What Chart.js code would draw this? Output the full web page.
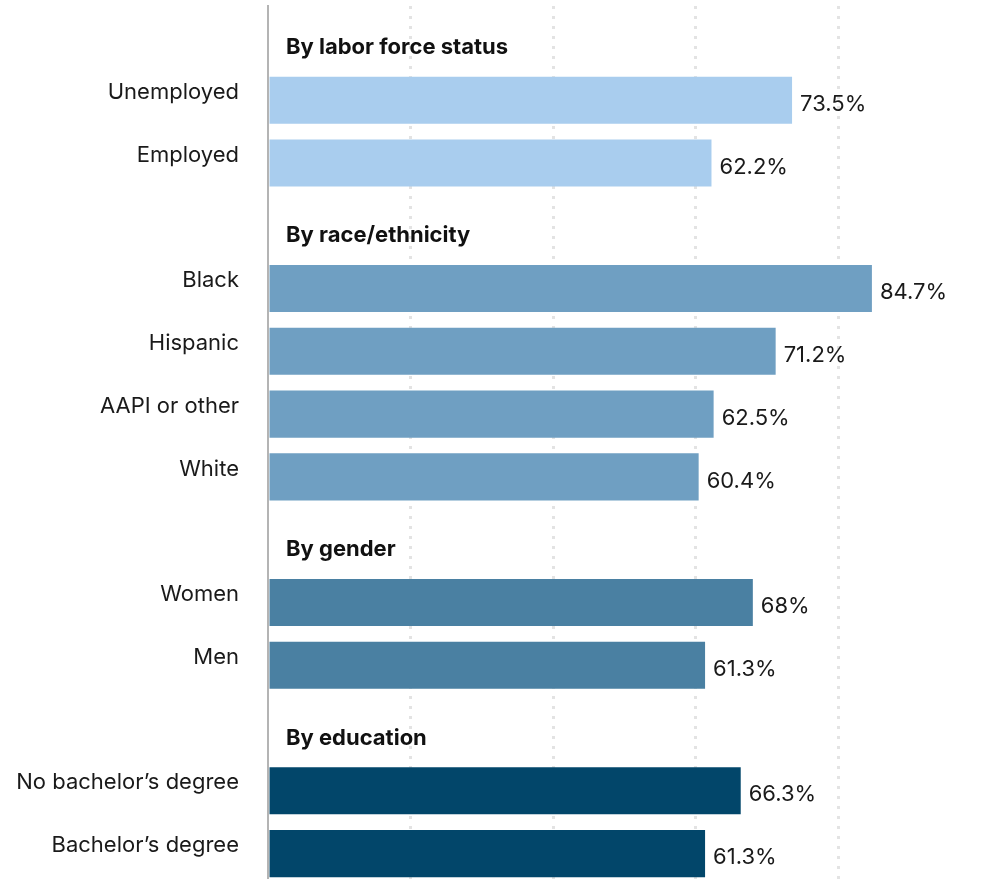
<!DOCTYPE html>
<html>
<head>
<meta charset="utf-8">
<script src="https://cdn.jsdelivr.net/npm/chart.js@4.4.1/dist/chart.umd.min.js"></script>
<style>
  html, body { margin: 0; padding: 0; background: #fff; overflow: hidden; }
  #frame { width: 981px; height: 879px; overflow: hidden; }
  #wrap { position: relative; width: 981px; height: 885px; }
</style>
</head>
<body>
<div id="frame">
  <div id="wrap"><canvas id="barChart"></canvas></div>
</div>
<script>
// rows in draw order, '' marks a group heading row
const rowLabels = [
  "", "Unemployed", "Employed",
  "", "Black", "Hispanic", "AAPI or other", "White",
  "", "Women", "Men",
  "", "No bachelor’s degree", "Bachelor’s degree",
];
const rowValues = [
  null, 73.5, 62.2,
  null, 84.7, 71.2, 62.5, 60.4,
  null, 68, 61.3,
  null, 66.3, 61.3,
];
const rowGroup = [0, 0, 0, 1, 1, 1, 1, 1, 2, 2, 2, 3, 3, 3];
const groupTitles = ["By labor force status", "By race/ethnicity", "By gender", "By education"];
const xTicks = [0, 20, 40, 60, 80, 100];

const groupColors = ["#a9cdee", "#6f9fc2", "#4a80a2", "#02466a"];
const FONT = "Inter";

// group headings and value labels
const textPlugin = {
  id: "rowText",
  afterDatasetsDraw(chart) {
    const { ctx, chartArea, scales } = chart;
    const meta = chart.getDatasetMeta(0);
    ctx.save();
    ctx.textBaseline = "middle";
    rowValues.forEach((v, i) => {
      const y = scales.y.getPixelForValue(i);
      if (v === null) {
        ctx.font = "bold 22px " + FONT;
        ctx.fillStyle = "#111";
        ctx.textAlign = "left";
        ctx.fillText(groupTitles[rowGroup[i]], chartArea.left + 18, y + 10);
      } else {
        const bar = meta.data[i];
        ctx.font = "22px " + FONT;
        ctx.fillStyle = "#1a1a1a";
        ctx.textAlign = "left";
        ctx.fillText(v + "%", bar.x + 8, y + 4);
      }
    });
    ctx.restore();
  },
};

new Chart(document.getElementById("barChart"), {
  type: "bar",
  data: {
    labels: rowLabels,
    datasets: [
      {
        data: rowValues,
        backgroundColor: rowGroup.map((g) => groupColors[g]),
        borderWidth: 0,
        categoryPercentage: 1,
        barPercentage: 0.75,
      },
    ],
  },
  options: {
    indexAxis: "y",
    responsive: true,
    maintainAspectRatio: false,
    animation: false,
    layout: { padding: { top: 6, right: 0, bottom: 0, left: 0 } },
    plugins: {
      legend: { display: false },
      tooltip: { enabled: false },
    },
    scales: {
      x: {
        min: 0,
        max: 100,
        afterBuildTicks: (scale) => {
          scale.ticks = xTicks.map((value) => ({ value }));
        },
        ticks: { display: false },
        grid: {
          drawTicks: false,
          lineWidth: 3,
          color: (c) => (c.tick && c.tick.value % 100 === 0 ? "rgba(0,0,0,0)" : "#e3e3e3"),
        },
        border: { display: false, dash: [3, 7] },
      },
      y: {
        afterFit: (scale) => {
          // fixed gutter for the labels, no extra room above/below
          scale.width = 268;
          scale.paddingTop = 0;
          scale.paddingBottom = 0;
        },
        grid: { display: false, drawTicks: false },
        border: { display: true, color: "#b4b4b4", width: 2 },
        ticks: {
          padding: 29,
          labelOffset: -8,
          color: "#1a1a1a",
          font: { family: FONT, size: 22 },
        },
      },
    },
  },
  plugins: [textPlugin],
});
</script>
</body>
</html>
